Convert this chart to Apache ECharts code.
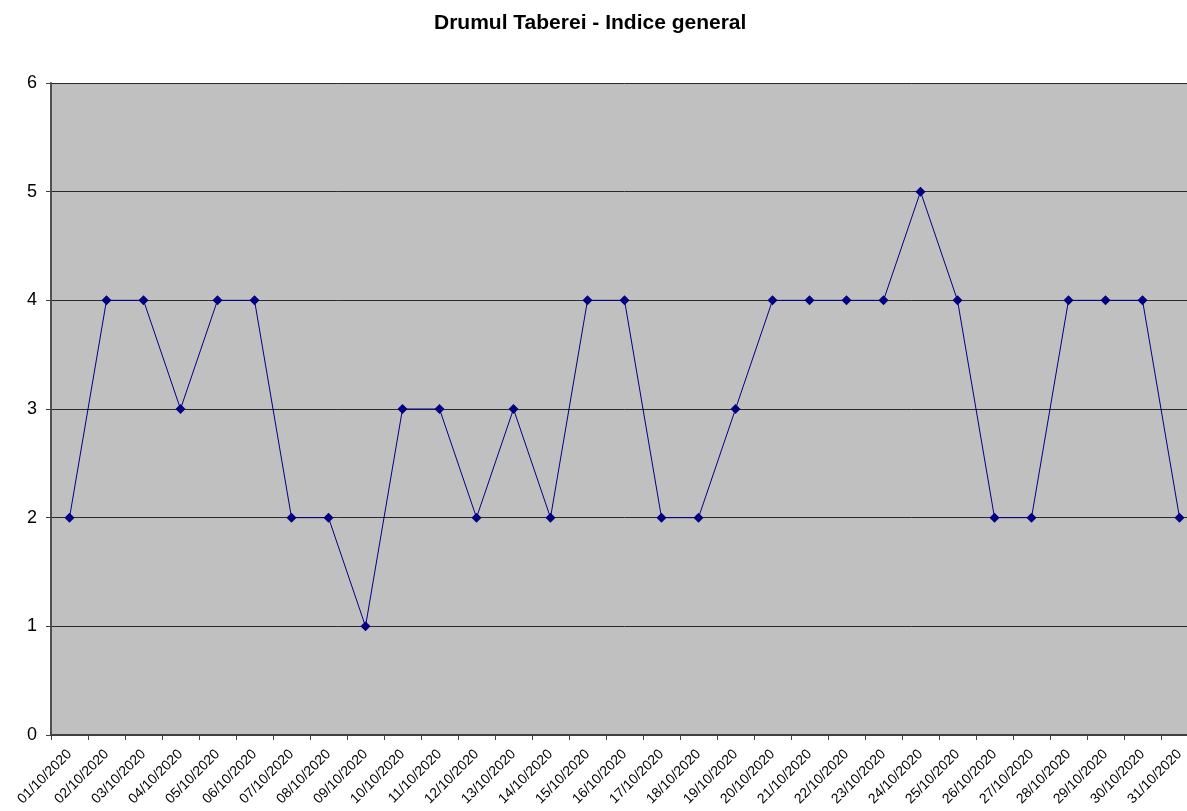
<!DOCTYPE html>
<html>
<head>
<meta charset="utf-8">
<script src="https://cdn.jsdelivr.net/npm/echarts@6/dist/echarts.min.js"></script>
<style>
  html, body { margin: 0; padding: 0; background: #fff; overflow: hidden; }
  #chart { width: 1198px; height: 811px; }
</style>
</head>
<body>
<div id="chart"></div>
<script>
// zilele lunii
const days = [
  '01/10/2020', '02/10/2020', '03/10/2020', '04/10/2020', '05/10/2020', '06/10/2020',
  '07/10/2020', '08/10/2020', '09/10/2020', '10/10/2020', '11/10/2020', '12/10/2020',
  '13/10/2020', '14/10/2020', '15/10/2020', '16/10/2020', '17/10/2020', '18/10/2020',
  '19/10/2020', '20/10/2020', '21/10/2020', '22/10/2020', '23/10/2020', '24/10/2020',
  '25/10/2020', '26/10/2020', '27/10/2020', '28/10/2020', '29/10/2020', '30/10/2020',
  '31/10/2020'
];
const indice = [2, 4, 4, 3, 4, 4, 2, 2, 1, 3, 3, 2, 3, 2, 4, 4, 2, 2, 3, 4, 4, 4, 4, 5, 4, 2, 2, 4, 4, 4, 2];

const myChart = echarts.init(document.getElementById('chart'));
const option = {
  animation: false,
  backgroundColor: '#fff',
  title: {
    text: 'Drumul Taberei - Indice general',
    left: 429,
    top: 8,
    textStyle: { fontFamily: 'Liberation Sans, Arial', fontSize: 21, fontWeight: 'bold', color: '#000' }
  },
  grid: {
    left: 51,
    right: 0,
    top: 83,
    bottom: 76,
    show: true,
    backgroundColor: '#c0c0c0',
    borderWidth: 0
  },
  xAxis: {
    type: 'category',
    data: days,
    boundaryGap: true,
    axisLine: { lineStyle: { color: '#404040', width: 2 } },
    axisTick: { show: true, alignWithLabel: false, length: 5, lineStyle: { color: '#404040' } },
    axisLabel: {
      interval: 0,
      rotate: 45,
      margin: 17,
      fontFamily: 'Liberation Sans, Arial',
      fontSize: 14,
      color: '#000'
    }
  },
  yAxis: {
    type: 'value',
    min: 0,
    max: 6,
    interval: 1,
    axisLine: { show: true, lineStyle: { color: '#505050', width: 2 } },
    axisTick: { show: true, length: 5, lineStyle: { color: '#404040' } },
    axisLabel: { fontFamily: 'Liberation Sans, Arial', fontSize: 18, color: '#000', margin: 14 },
    splitLine: { show: true, lineStyle: { color: '#2a2a2a', width: 1 } }
  },
  series: [{
    type: 'line',
    data: indice,
    symbol: 'diamond',
    symbolSize: 10,
    lineStyle: { color: '#000080', width: 1 },
    itemStyle: { color: '#000080' }
  }]
};
myChart.setOption(option, true);
</script>
</body>
</html>
